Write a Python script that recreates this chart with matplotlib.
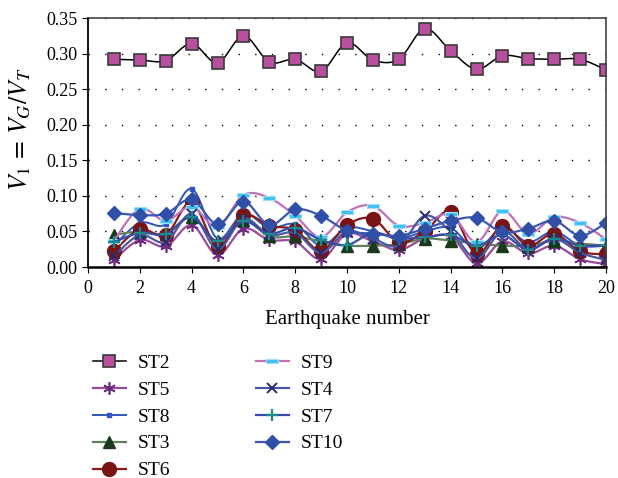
import numpy as np
import matplotlib
matplotlib.use("Agg")
import matplotlib.pyplot as plt

plt.rcParams['font.family'] = ['Liberation Serif', 'DejaVu Serif']
plt.rcParams['mathtext.fontset'] = 'stix'

# earthquake numbers and velocity ratios per storey
quake = list(range(1, 21))
st2 = [0.292, 0.291, 0.290, 0.314, 0.287, 0.325, 0.288, 0.292, 0.275, 0.315,
       0.291, 0.292, 0.335, 0.304, 0.278, 0.297, 0.293, 0.292, 0.292, 0.277]
st5 = [0.010, 0.038, 0.029, 0.059, 0.017, 0.054, 0.038, 0.036, 0.011, 0.047,
       0.036, 0.024, 0.040, 0.043, 0.005, 0.036, 0.019, 0.030, 0.011, 0.004]
st8 = [0.030, 0.062, 0.060, 0.110, 0.040, 0.075, 0.055, 0.060, 0.030, 0.055,
       0.050, 0.040, 0.050, 0.055, 0.025, 0.055, 0.035, 0.050, 0.030, 0.030]
st3 = [0.045, 0.050, 0.047, 0.071, 0.036, 0.066, 0.043, 0.043, 0.036, 0.030,
       0.030, 0.032, 0.040, 0.037, 0.033, 0.030, 0.030, 0.037, 0.033, 0.030]
st6 = [0.022, 0.053, 0.045, 0.091, 0.029, 0.073, 0.058, 0.052, 0.023, 0.059,
       0.068, 0.035, 0.050, 0.078, 0.018, 0.058, 0.030, 0.047, 0.022, 0.018]
st9 = [0.037, 0.082, 0.065, 0.085, 0.056, 0.101, 0.097, 0.072, 0.042, 0.077,
       0.086, 0.058, 0.062, 0.074, 0.035, 0.079, 0.047, 0.070, 0.062, 0.039]
st4 = [0.015, 0.045, 0.035, 0.075, 0.025, 0.068, 0.045, 0.048, 0.020, 0.050,
       0.040, 0.030, 0.072, 0.050, 0.012, 0.050, 0.025, 0.040, 0.020, 0.010]
st7 = [0.035, 0.048, 0.046, 0.070, 0.036, 0.064, 0.047, 0.055, 0.038, 0.031,
       0.048, 0.040, 0.042, 0.045, 0.030, 0.045, 0.024, 0.040, 0.030, 0.031]
st10 = [0.076, 0.073, 0.075, 0.095, 0.060, 0.092, 0.059, 0.081, 0.072, 0.051,
        0.047, 0.044, 0.054, 0.065, 0.069, 0.049, 0.054, 0.065, 0.044, 0.062]

# wide flat rectangle marker for ST9
flat_rect = [(-1, -0.38), (1, -0.38), (1, 0.38), (-1, 0.38), (-1, -0.38)]

series = [
    ('ST2', st2, dict(color='black', lw=1.1, marker='s', ms=8, mfc='#B8509F', mec='#3a3a3a', mew=1.2)),
    ('ST5', st5, dict(color='#9A4A9A', lw=1.6, marker=(6, 2, 0), ms=9, mec='#6E2A7E', mew=1.2)),
    ('ST8', st8, dict(color='#2F55C0', lw=1.4, marker='s', ms=3, mfc='#2F55C0', mec='#2F55C0')),
    ('ST3', st3, dict(color='#5F7F5F', lw=1.6, marker='^', ms=8, mfc='#1B3A1B', mec='#1B3A1B')),
    ('ST6', st6, dict(color='#8B1A1A', lw=1.6, marker='o', ms=10, mfc='#7A1414', mec='#7A1414')),
    ('ST9', st9, dict(color='#C070B8', lw=1.6, marker=flat_rect, ms=9, mfc='#3FC0F0', mec='#9FE0F8', mew=0.8)),
    ('ST4', st4, dict(color='#4A5AA0', lw=1.6, marker='x', ms=7, mec='#2A2A70', mew=1.4)),
    ('ST7', st7, dict(color='#3A4AA8', lw=1.6, marker='+', ms=9, mec='#1A8A8A', mew=1.6)),
    ('ST10', st10, dict(color='#3A58B0', lw=1.6, marker='D', ms=7, mfc='#3050A8', mec='#3050A8')),
]


def smooth(x, y, m=12):
    """Catmull-Rom curve through the points; every m-th sample is a data point."""
    pts = np.column_stack([x, y]).astype(float)
    pts = np.vstack([pts[0], pts, pts[-1]])
    out = []
    t = np.linspace(0, 1, m, endpoint=False)[:, None]
    for i in range(1, len(pts) - 2):
        p0, p1, p2, p3 = pts[i - 1], pts[i], pts[i + 1], pts[i + 2]
        seg = 0.5 * (2 * p1 + (-p0 + p2) * t + (2 * p0 - 5 * p1 + 4 * p2 - p3) * t ** 2
                     + (-p0 + 3 * p1 - 3 * p2 + p3) * t ** 3)
        out.append(seg)
    out.append(pts[-2][None, :])
    out = np.vstack(out)
    return out[:, 0], out[:, 1]


fig = plt.figure(figsize=(6.18, 4.78), dpi=100)
ax = fig.add_axes([0.1424, 0.4414, 0.8382, 0.5209])

m = 12
for name, vals, style in series:
    sx, sy = smooth(quake, vals, m)
    ax.plot(sx, sy, markevery=m, label=name, **style)

ax.set_xlim(0, 20)
ax.set_ylim(0, 0.35)
ax.set_xticks(range(0, 21, 2))
ax.set_yticks(np.arange(0, 0.351, 0.05))
ax.yaxis.set_major_formatter(matplotlib.ticker.FormatStrFormatter('%.2f'))
ax.grid(axis='y', color='black', linestyle=(0, (1, 11)), lw=1.0)
ax.tick_params(direction='out', length=4, labelsize=13, colors='black')
ax.tick_params(axis='x', pad=5)

for side in ['top', 'right']:
    ax.spines[side].set_color('#444444')
    ax.spines[side].set_linewidth(1.2)
ax.spines['left'].set_linewidth(1.3)
ax.spines['bottom'].set_linewidth(1.8)

ax.set_xlabel('Earthquake number', fontsize=15, labelpad=10)
fig.text(0.032, 0.73, r'$V_1\,=\,V_G/V_T$', fontsize=18.5, rotation=90,
         ha='center', va='center')

fig.legend(loc='upper left', bbox_to_anchor=(0.122, 0.296), ncol=2, frameon=False,
           fontsize=14, handlelength=1.7, handletextpad=0.6, columnspacing=4.4,
           labelspacing=0.48)

fig.savefig('out.png', dpi=100)
